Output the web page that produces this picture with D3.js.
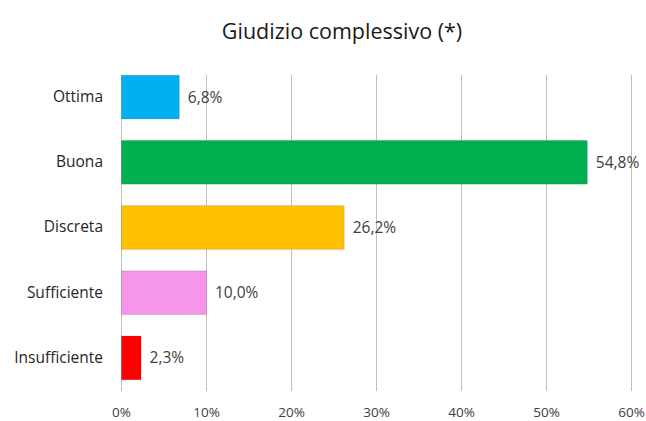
<!DOCTYPE html>
<html>
<head>
<meta charset="utf-8">
<script src="https://cdn.jsdelivr.net/npm/d3@7"></script>
<style>
  body { margin: 0; background: #fff; }
  text { font-family: "Open Sans", "Liberation Sans", sans-serif; }
</style>
</head>
<body>
<script>
var categories = ["Ottima", "Buona", "Discreta", "Sufficiente", "Insufficiente"];
var values = [6.8, 54.8, 26.2, 10.0, 2.3];
var valueLabels = ["6,8%", "54,8%", "26,2%", "10,0%", "2,3%"];
var barColors = ["#00B0F0", "#00B050", "#FFC000", "#F596EA", "#FF0000"];
var ticks = [0, 10, 20, 30, 40, 50, 60];
var title = "Giudizio complessivo (*)";

var w = 646, h = 421;

var svg = d3.select("body")
            .append("svg")
            .attr("width", w)
            .attr("height", h);

var x = d3.scaleLinear().domain([0, 60]).range([121, 631]);
var y = d3.scaleBand().domain(categories).range([64.5, 390.5]).paddingInner(0.33).paddingOuter(0.165);

// grid lines
svg.selectAll("line.grid")
   .data(ticks)
   .enter()
   .append("line")
   .attr("class", "grid")
   .attr("x1", function(d) { return Math.round(x(d)) + 0.5; })
   .attr("x2", function(d) { return Math.round(x(d)) + 0.5; })
   .attr("y1", 75)
   .attr("y2", 391)
   .attr("stroke", "#BFBFBF")
   .attr("stroke-width", 1);

// bars
svg.selectAll("rect")
   .data(values)
   .enter()
   .append("rect")
   .attr("x", x(0) + 0.5)
   .attr("y", function(d, i) { return y(categories[i]); })
   .attr("width", function(d) { return x(d) - x(0); })
   .attr("height", y.bandwidth())
   .attr("fill", function(d, i) { return barColors[i]; })
   .attr("stroke", "rgba(0,0,0,0.12)")
   .attr("stroke-width", 1);

// value labels
svg.selectAll("text.val")
   .data(values)
   .enter()
   .append("text")
   .attr("class", "val")
   .text(function(d, i) { return valueLabels[i]; })
   .attr("x", function(d) { return x(d) + 9; })
   .attr("y", function(d, i) { return y(categories[i]) + y.bandwidth() / 2; })
   .attr("dy", "0.35em")
   .attr("font-size", 15.5)
   .attr("fill", "#404040");

// category labels
var yAxis = d3.axisLeft(y).tickSize(0).tickPadding(18);
var ga = svg.append("g").attr("transform", "translate(121,0)").call(yAxis);
ga.select(".domain").remove();
ga.selectAll("text")
  .attr("font-size", 15.5)
  .attr("fill", "#262626")
  .style("font-family", "'Open Sans', sans-serif");

// x tick labels
var xAxis = d3.axisBottom(x).tickValues(ticks).tickSize(0).tickPadding(0)
              .tickFormat(function(d) { return d + "%"; });
var gx = svg.append("g").attr("transform", "translate(0,407)").call(xAxis);
gx.select(".domain").remove();
gx.selectAll("text")
  .attr("font-size", 13.5)
  .attr("fill", "#404040")
  .style("font-family", "'Open Sans', sans-serif");

// title
svg.append("text")
   .text(title)
   .attr("x", 342)
   .attr("y", 39)
   .attr("text-anchor", "middle")
   .attr("font-size", 21.5)
   .attr("fill", "#1a1a1a");
</script>
</body>
</html>
